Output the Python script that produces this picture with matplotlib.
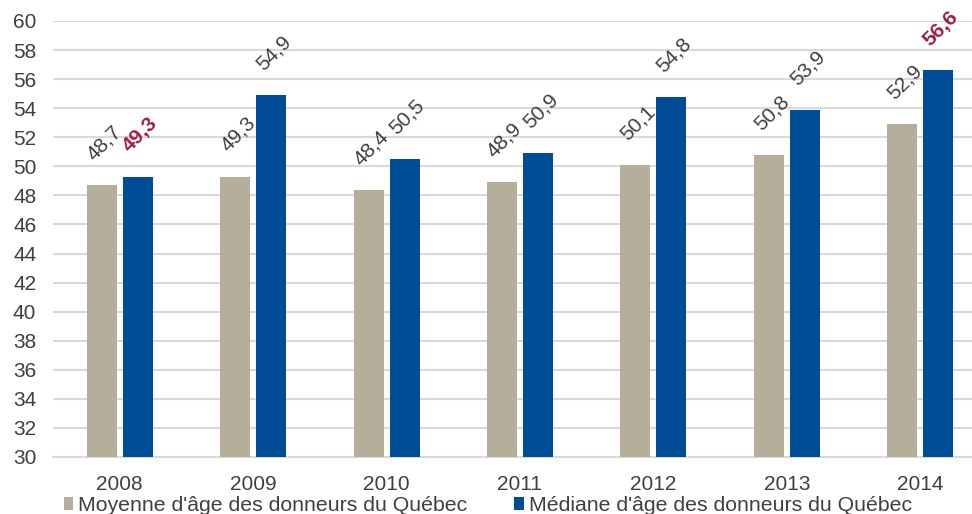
import matplotlib
matplotlib.use("Agg")
import matplotlib.pyplot as plt
import numpy as np

years = ["2008", "2009", "2010", "2011", "2012", "2013", "2014"]
moyenne = [48.7, 49.3, 48.4, 48.9, 50.1, 50.8, 52.9]
mediane = [49.3, 54.9, 50.5, 50.9, 54.8, 53.9, 56.6]
highlight_median = [True, False, False, False, False, False, True]
series_names = ["Moyenne d'âge des donneurs du Québec", "Médiane d'âge des donneurs du Québec"]

plt.rcParams['font.family'] = ['Liberation Sans', 'DejaVu Sans']

fig = plt.figure(figsize=(9.72, 5.14), dpi=100)
ax = fig.add_axes([53/972, 1 - 457/514, 934/972, 436/514])

x = np.arange(len(years))
w = 0.225
off = 0.135
c_gray = "#B5AE9B"
c_blue = "#004C97"
b1 = ax.bar(x - off, [v - 30 for v in moyenne], w, bottom=30, color=c_gray, label=series_names[0], zorder=3)
b2 = ax.bar(x + off, [v - 30 for v in mediane], w, bottom=30, color=c_blue, label=series_names[1], zorder=3)

ax.set_xlim(-0.5, 6.5)
ax.set_ylim(30, 60)
ax.set_yticks(range(30, 61, 2))
ax.set_xticks(x)
ax.set_xticklabels(years)
ax.grid(axis='y', color="#D9D9D9", linewidth=1.5, zorder=0)
for s in ['left', 'right', 'top']:
    ax.spines[s].set_visible(False)
ax.spines['bottom'].set_color("#D9D9D9")
ax.spines['bottom'].set_linewidth(1.5)
ax.tick_params(axis='both', length=0, labelsize=15, colors="#404040")
ax.tick_params(axis='x', pad=13)
ax.tick_params(axis='y', pad=12)

def fmt(v):
    return f"{v:.1f}".replace(".", ",")

for i in range(len(years)):
    ax.annotate(fmt(moyenne[i]), xy=(x[i] - off - w / 2, moyenne[i]), xytext=(10, 21),
                textcoords='offset pixels', rotation=45, rotation_mode='anchor',
                ha='left', va='bottom', fontsize=15, color="#404040")
    hl = highlight_median[i]
    ax.annotate(fmt(mediane[i]), xy=(x[i] + off - w / 2, mediane[i]), xytext=(10, 21),
                textcoords='offset pixels', rotation=45, rotation_mode='anchor',
                ha='left', va='bottom', fontsize=15,
                color="#9B1F41" if hl else "#404040",
                fontweight='bold' if hl else 'normal')

leg = fig.legend(handles=[b1, b2], labels=series_names, loc='lower left',
                 bbox_to_anchor=(55/972, -0.018), ncol=2, frameon=False,
                 fontsize=15.3, handlelength=0.47, handleheight=0.6, handletextpad=0.23,
                 columnspacing=2.2, borderaxespad=0, labelcolor="#404040")

fig.savefig("out.png", dpi=100)
